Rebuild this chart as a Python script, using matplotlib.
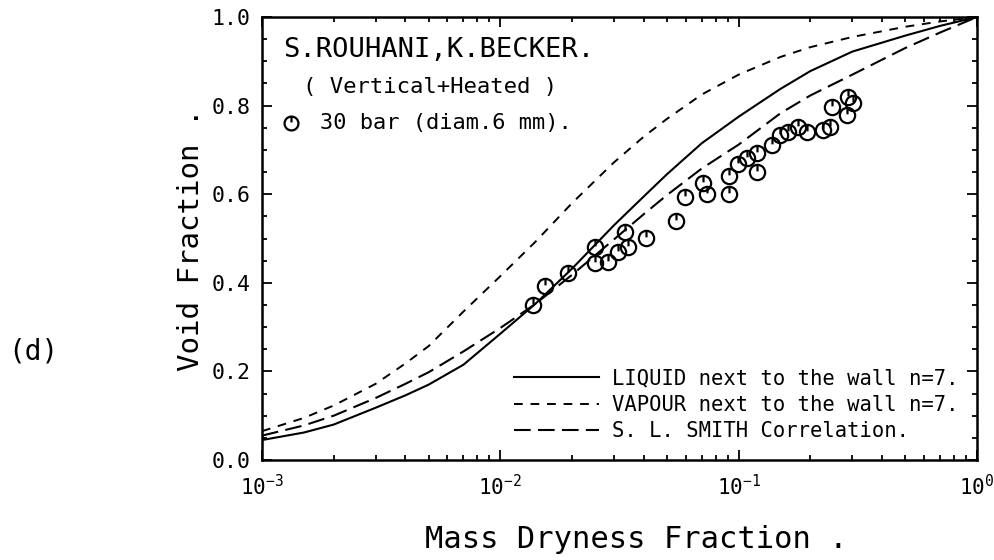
import matplotlib
matplotlib.use("Agg")
import matplotlib.pyplot as plt
from matplotlib.path import Path
from matplotlib.ticker import LogLocator, MultipleLocator

plt.rcParams["font.family"] = ["DejaVu Sans Mono"]
plt.rcParams["mathtext.fontset"] = "custom"
plt.rcParams["mathtext.rm"] = "DejaVu Sans Mono:bold"

# --- model curves ---
x_curve = [0.001, 0.0015, 0.002, 0.003, 0.004, 0.005, 0.007, 0.01, 0.014, 0.02,
           0.03, 0.04, 0.05, 0.07, 0.1, 0.15, 0.2, 0.3, 0.5, 0.7, 1.0]
liquid = [0.045, 0.062, 0.080, 0.118, 0.146, 0.170, 0.215, 0.285, 0.352, 0.432,
          0.530, 0.595, 0.645, 0.715, 0.775, 0.838, 0.878, 0.922, 0.958, 0.980, 1.0]
vapour = [0.065, 0.095, 0.123, 0.172, 0.218, 0.257, 0.335, 0.415, 0.492, 0.580,
          0.672, 0.730, 0.770, 0.825, 0.870, 0.910, 0.932, 0.955, 0.978, 0.990, 1.0]
smith = [0.055, 0.078, 0.100, 0.140, 0.172, 0.198, 0.245, 0.298, 0.352, 0.418,
         0.498, 0.555, 0.598, 0.658, 0.712, 0.783, 0.823, 0.870, 0.930, 0.965, 1.0]

# --- measured points, 30 bar ---
x_data = [0.0137, 0.0154, 0.0192, 0.0250, 0.0250, 0.0283, 0.0312, 0.0344, 0.0334,
          0.0409, 0.0546, 0.0596, 0.0709, 0.0737, 0.0911, 0.0911, 0.0995, 0.1084,
          0.1194, 0.1194, 0.138, 0.149, 0.161, 0.178, 0.194, 0.226, 0.242, 0.247,
          0.285, 0.288, 0.302]
y_data = [0.350, 0.393, 0.422, 0.481, 0.445, 0.447, 0.470, 0.481, 0.515,
          0.501, 0.540, 0.594, 0.625, 0.600, 0.600, 0.641, 0.668, 0.682,
          0.693, 0.650, 0.711, 0.734, 0.740, 0.752, 0.740, 0.745, 0.752, 0.797,
          0.779, 0.819, 0.806]

legend_labels = ["LIQUID next to the wall n=7.",
                 "VAPOUR next to the wall n=7.",
                 "S. L. SMITH Correlation."]

# circle with a small stroke from the top, like the plotter symbol
circ_tick = Path.make_compound_path(
    Path.unit_circle(),
    Path([[0, 1], [0, 0.15]], [Path.MOVETO, Path.LINETO]))

fig = plt.figure(figsize=(9.95, 5.6), dpi=100)
ax = fig.add_axes([0.2633, 0.1786, 0.7186, 0.791])

ax.plot(x_curve, liquid, color="black", lw=1.5, label=legend_labels[0])
ax.plot(x_curve, vapour, color="black", lw=1.4, dashes=(4.5, 4), label=legend_labels[1])
ax.plot(x_curve, smith, color="black", lw=1.5, dashes=(8, 3.5), label=legend_labels[2])
ax.plot(x_data, y_data, ls="none", marker=circ_tick, ms=11, mfc="none",
        mec="black", mew=1.6)

ax.set_xscale("log")
ax.set_xlim(1e-3, 1.0)
ax.set_ylim(0.0, 1.0)
ax.yaxis.set_minor_locator(MultipleLocator(0.05))
ax.xaxis.set_major_locator(LogLocator(base=10, numticks=10))
ax.xaxis.set_minor_locator(LogLocator(base=10, subs=range(2, 10), numticks=10))
ax.set_yticks([0.0, 0.2, 0.4, 0.6, 0.8, 1.0])
ax.set_yticklabels(["0.0", "0.2", "0.4", "0.6", "0.8", "1.0"])

ax.tick_params(which="both", direction="in", top=True, right=True, width=1.3)
ax.tick_params(which="major", length=7.5, labelsize=15.5, pad=8)
ax.tick_params(which="minor", length=3.8)
ax.tick_params(axis="x", which="major", labelsize=15, pad=10)
for s in ax.spines.values():
    s.set_linewidth(1.8)

ax.legend(loc="lower right", bbox_to_anchor=(1.0, 0.0), frameon=False,
          fontsize=14.8, handlelength=4.1, handletextpad=0.65, labelspacing=0.32)

ax.text(0.029, 0.925, "S.ROUHANI,K.BECKER.", transform=ax.transAxes,
        fontsize=19.5, va="center")
ax.text(0.057, 0.843, "( Vertical+Heated )", transform=ax.transAxes,
        fontsize=16, va="center")
ax.plot([0.04], [0.76], transform=ax.transAxes, marker=circ_tick, ms=10,
        mfc="none", mec="black", mew=1.6, clip_on=False)
ax.text(0.081, 0.76, "30 bar (diam.6 mm).", transform=ax.transAxes,
        fontsize=15.8, va="center")

fig.text(0.192, 0.572, "Void Fraction .", rotation=90, fontsize=21,
         ha="center", va="center")
fig.text(0.64, 0.036, "Mass Dryness Fraction .", fontsize=22,
         ha="center", va="center")
fig.text(0.034, 0.372, "(d)", fontsize=20, ha="center", va="center")

fig.savefig("out.png", dpi=100)
